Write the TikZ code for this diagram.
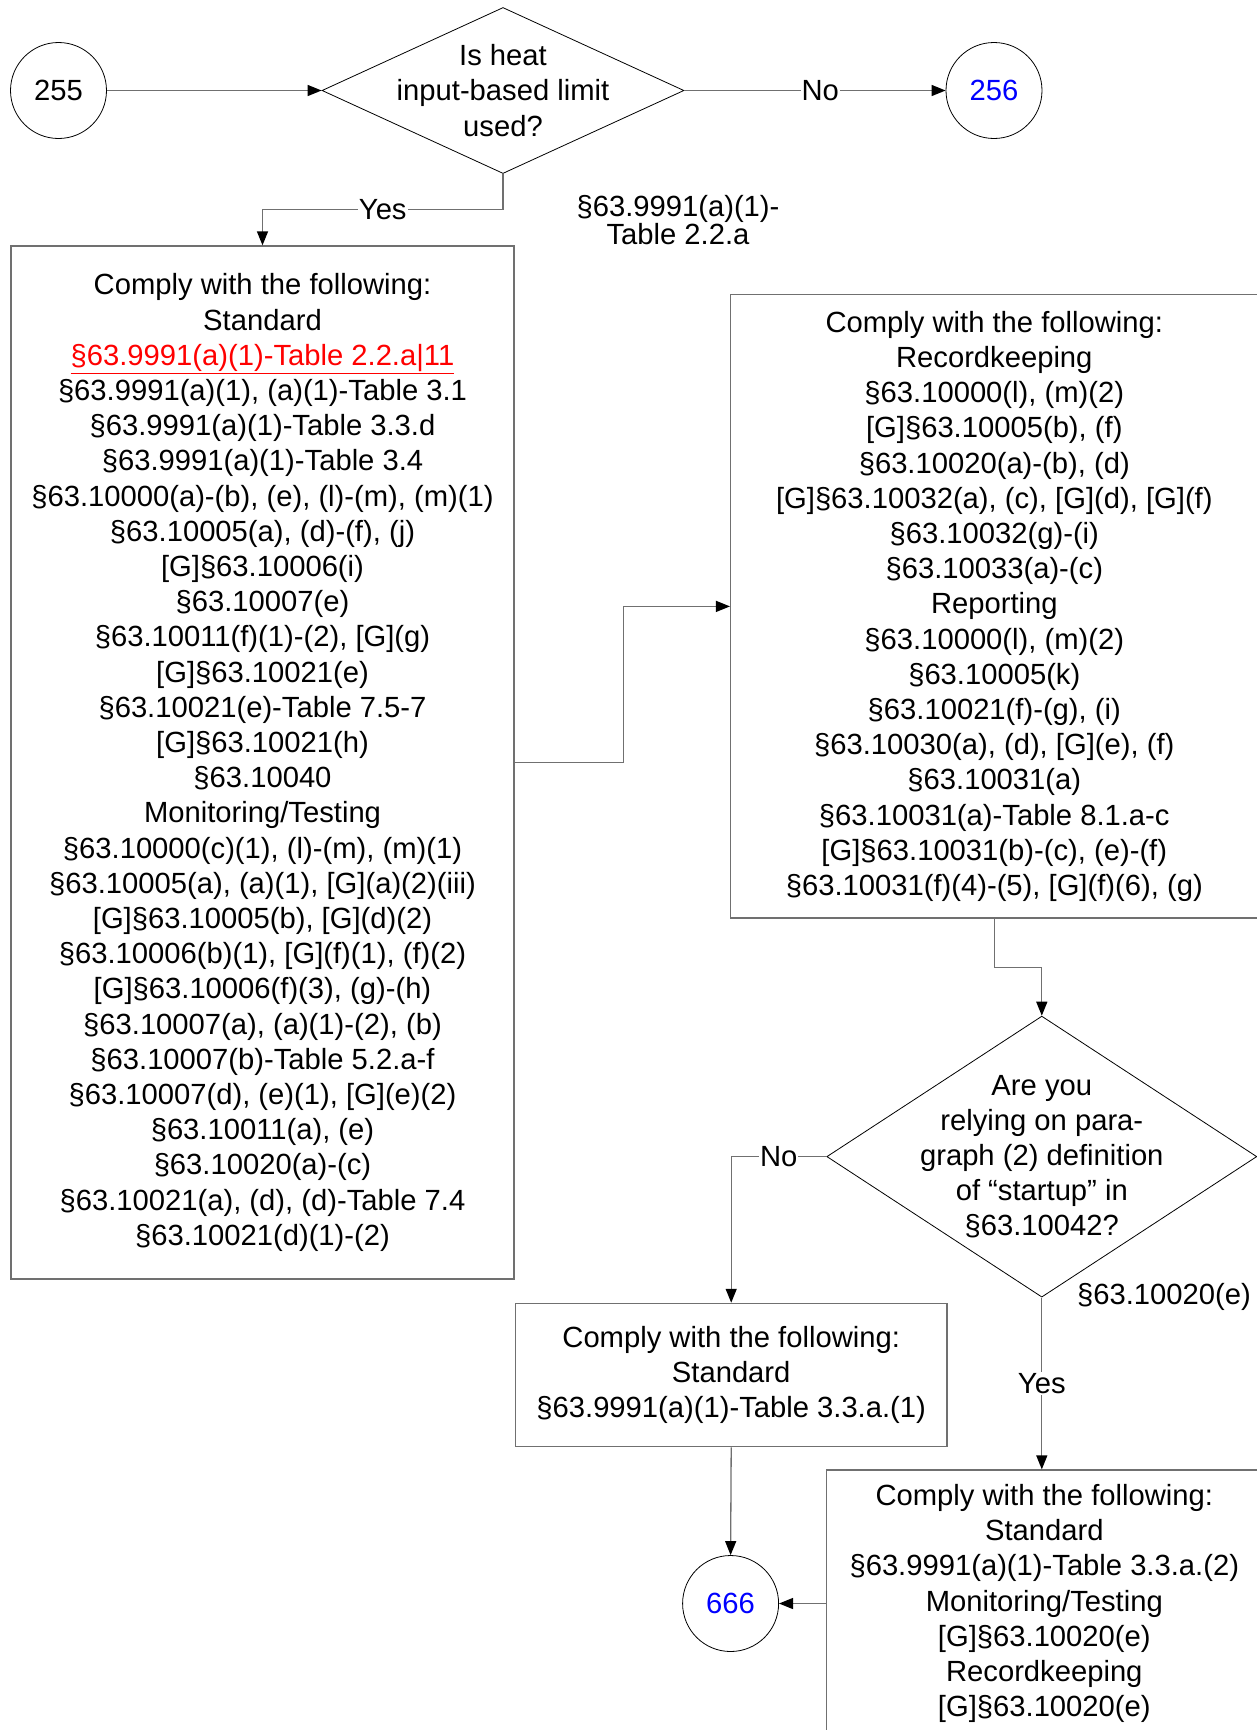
\documentclass[tikz,border=0pt]{standalone}
\usepackage{fontspec}
\setmainfont{Liberation Sans}
\usetikzlibrary{shapes.geometric,arrows.meta}
\definecolor{edgegray}{HTML}{707070}
\newcommand\mygg{[G]}
\tikzset{
  txt/.style={font=\fontsize{29.2}{35.2}\selectfont, align=center, inner sep=0pt},
  boxnode/.style={draw=edgegray, line width=1.3pt, rectangle, inner sep=0pt, txt},
  dianode/.style={draw=black, line width=0.8pt, diamond, inner sep=0pt},
  circnode/.style={draw=black, line width=0.8pt, circle, minimum size=96pt, inner sep=0pt, txt},
  conn/.style={draw=edgegray, line width=1.3pt, -{Triangle[length=14pt,width=11pt,color=black]}},
  lbl/.style={txt, fill=white, inner sep=1pt}
}
\begin{document}
\begin{tikzpicture}[x=1pt,y=-1pt]
\useasboundingbox (0,0) rectangle (1257,1730);
\clip (0,0) rectangle (1257,1730);
\fill[white] (0,0) rectangle (1257,1730);

% top row
\node[circnode] (c255) at (58.5,90.5) {255};
\node[dianode, minimum width=362pt, minimum height=166pt] (d1) at (503,90.5) {};
\node[txt] (d1t) at (d1.center) {Is heat\\input-based limit\\used?};
\node[circnode, text=blue] (c256) at (994,90.5) {256};

% boxes
\node[boxnode, minimum width=503pt, minimum height=1033pt] (b1) at (262.5,762.5) {Comply with the following:\\Standard\\
\textcolor{red}{\underline{§63.9991(a)(1)-Table 2.2.a|11}}\\
§63.9991(a)(1), (a)(1)-Table 3.1\\
§63.9991(a)(1)-Table 3.3.d\\
§63.9991(a)(1)-Table 3.4\\
§63.10000(a)-(b), (e), (l)-(m), (m)(1)\\
§63.10005(a), (d)-(f), (j)\\
\mygg§63.10006(i)\\
§63.10007(e)\\
§63.10011(f)(1)-(2), [G](g)\\
\mygg§63.10021(e)\\
§63.10021(e)-Table 7.5-7\\
\mygg§63.10021(h)\\
§63.10040\\
Monitoring/Testing\\
§63.10000(c)(1), (l)-(m), (m)(1)\\
§63.10005(a), (a)(1), [G](a)(2)(iii)\\
\mygg§63.10005(b), [G](d)(2)\\
§63.10006(b)(1), [G](f)(1), (f)(2)\\
\mygg§63.10006(f)(3), (g)-(h)\\
§63.10007(a), (a)(1)-(2), (b)\\
§63.10007(b)-Table 5.2.a-f\\
§63.10007(d), (e)(1), [G](e)(2)\\
§63.10011(a), (e)\\
§63.10020(a)-(c)\\
§63.10021(a), (d), (d)-Table 7.4\\
§63.10021(d)(1)-(2)};

\node[boxnode, minimum width=527.4pt, minimum height=623.3pt] (b2) at (994.3,606.4) {Comply with the following:\\
Recordkeeping\\
§63.10000(l), (m)(2)\\
\mygg§63.10005(b), (f)\\
§63.10020(a)-(b), (d)\\
\mygg§63.10032(a), (c), [G](d), [G](f)\\
§63.10032(g)-(i)\\
§63.10033(a)-(c)\\
Reporting\\
§63.10000(l), (m)(2)\\
§63.10005(k)\\
§63.10021(f)-(g), (i)\\
§63.10030(a), (d), [G](e), (f)\\
§63.10031(a)\\
§63.10031(a)-Table 8.1.a-c\\
\mygg§63.10031(b)-(c), (e)-(f)\\
§63.10031(f)(4)-(5), [G](f)(6), (g)};

\node[dianode, minimum width=430pt, minimum height=281pt] (d2) at (1041.8,1156.6) {};
\node[txt] (d2t) at (d2.center) {Are you\\relying on para-\\graph (2) definition\\of “startup” in\\§63.10042?};

\node[boxnode, minimum width=431.6pt, minimum height=143.4pt] (b3) at (731.2,1375.1) {Comply with the following:\\Standard\\§63.9991(a)(1)-Table 3.3.a.(1)};

\node[boxnode, minimum width=435.4pt, minimum height=267pt] (b4) at (1044.3,1603.5) {Comply with the following:\\Standard\\§63.9991(a)(1)-Table 3.3.a.(2)\\Monitoring/Testing\\\mygg§63.10020(e)\\Recordkeeping\\\mygg§63.10020(e)};

\node[circnode, text=blue] (c666) at (730.6,1603.5) {666};

% free labels
\node[txt, font=\fontsize{29.2}{28.7}\selectfont] (ref1) at (678,220) {§63.9991(a)(1)-\\Table 2.2.a};
\node[txt] (ref2) at (1164,1297) {§63.10020(e)};

% connectors
\coordinate (yb) at (503,209.7);
\draw[conn] (c255) -- (d1.west);
\draw[conn] (d1.east) -- node[lbl, pos=0.52] {No} (c256);
\draw[conn] (d1.south) -- (yb) -- node[lbl] {Yes} (b1.north |- yb) -- (b1.north);
\draw[conn] (b1.east) -- ++(109,0) |- (b2.west);
\draw[conn] (b2.south) -- ++(0,48.7) -| (d2.north);
\draw[conn] (d2.west) -| node[lbl, pos=0.25] {No} (b3.north);
\draw[conn] (d2.south) -- node[lbl] {Yes} (d2.south |- b4.north);
\draw[conn] (b3.south) -- (c666.north);
\draw[conn] (b4.west) -- (c666.east);
\end{tikzpicture}
\end{document}
